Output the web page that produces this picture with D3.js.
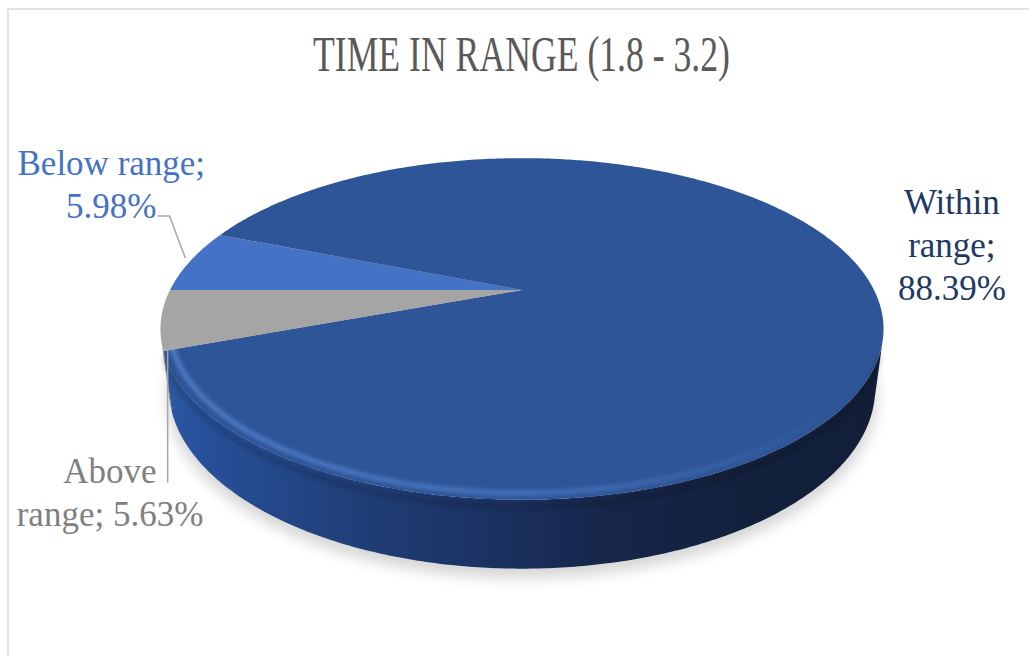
<!DOCTYPE html>
<html>
<head>
<meta charset="utf-8">
<script src="https://cdn.jsdelivr.net/npm/d3@7"></script>
<style>
  body { margin: 0; background: #fff; }
  svg { display: block; }
</style>
</head>
<body>
<svg id="vis"></svg>
<script>
// data
const categories = ["Below range", "Within range", "Above range"];
const percents = [5.98, 88.39, 5.63];
const chartTitle = "TIME IN RANGE (1.8 - 3.2)";

// how the label words are broken onto lines
const wordsPerLine = [[2, 1], [1, 1, 1], [1, 2]];

const topColor = d3.scaleOrdinal().domain(categories).range(["#4472C4", "#2E5597", "#A5A5A5"]);
const labelColor = d3.scaleOrdinal().domain(categories).range(["#4472C4", "#1F3864", "#808080"]);

const width = 1029, height = 656;

// 3d view of the pie (camera tilt + perspective)
const cx = 522, cy = 290, R = 352, depth = 67;
const sinE = 0.46, cosE = Math.sqrt(1 - sinE * sinE), D = 1371;

project = (phi, r, z) => {
  const X = r * Math.sin(phi), Y = -r * Math.cos(phi);
  const v = Y * sinE - z * cosE;
  const w = Y * cosE + z * sinE;
  const k = D / (D - w);
  return [cx + X * k, cy + v * k];
}

rimPoints = (a0, a1, r, z) => {
  const n = Math.max(2, Math.ceil(Math.abs(a1 - a0) / 0.01));
  return d3.range(n + 1).map(i => project(a0 + (a1 - a0) * i / n, r, z));
}

const svg = d3.select("#vis")
  .attr("width", width)
  .attr("height", height)
  .attr("viewBox", [0, 0, width, height]);

const defs = svg.append("defs");
defs.append("filter").attr("id", "blur")
  .attr("x", "-20%").attr("y", "-20%").attr("width", "140%").attr("height", "140%")
  .append("feGaussianBlur").attr("stdDeviation", 7);
defs.append("filter").attr("id", "soft")
  .append("feGaussianBlur").attr("stdDeviation", 2.2);

const sideGrad = defs.append("linearGradient").attr("id", "sideBlue")
  .attr("gradientUnits", "userSpaceOnUse")
  .attr("x1", cx - R * 1.03).attr("x2", cx + R * 1.03).attr("y1", 0).attr("y2", 0);
[[0, "#2C5AA2"], [0.06, "#27509A"], [0.25, "#20407A"], [0.45, "#1B3262"], [0.62, "#16264A"], [0.8, "#13213D"], [1, "#121E38"]]
  .forEach(s => sideGrad.append("stop").attr("offset", s[0]).attr("stop-color", s[1]));

// highlight fades out toward the right side of the disc
const hlGrad = defs.append("linearGradient").attr("id", "hlFade")
  .attr("gradientUnits", "userSpaceOnUse")
  .attr("x1", cx - R).attr("x2", cx + R).attr("y1", 0).attr("y2", 0);
[[0, 0.9], [0.5, 0.7], [0.8, 0.25], [0.95, 0]]
  .forEach(s => hlGrad.append("stop").attr("offset", s[0]).attr("stop-color", "#5A8AD6").attr("stop-opacity", s[1]));

const sideColor = d3.scaleOrdinal().domain(categories).range(["#3A64AE", "url(#sideBlue)", "#8C8C8C"]);

// chart frame
svg.append("rect")
  .attr("x", 8).attr("y", 9).attr("width", 1100).attr("height", 700)
  .attr("fill", "#fff").attr("stroke", "#D9D9D9").attr("stroke-width", 1.5);

svg.append("text")
  .attr("x", 313).attr("y", 71)
  .attr("textLength", 417).attr("lengthAdjust", "spacingAndGlyphs")
  .style("font-family", "'Liberation Serif', 'Times New Roman', serif")
  .style("font-size", "50px")
  .style("fill", "#595959")
  .text(chartTitle);

const pie = d3.pie().sort(null).value(d => d)
  .startAngle(1.5 * Math.PI).endAngle(3.5 * Math.PI);
const arcs = pie(percents).map((a, i) => ({...a, name: categories[i], mid: (a.startAngle + a.endAngle) / 2}));

const line = d3.line();

// soft shadow under the disc
svg.append("path")
  .attr("d", line(rimPoints(0, 2 * Math.PI, R * 1.005, -depth)) + "Z")
  .attr("transform", "translate(0,8)")
  .attr("fill", "#000").attr("opacity", 0.16)
  .attr("filter", "url(#blur)");

// the part of the rim that faces the camera
const phiV = Math.acos(-R / (D * cosE));
const visible = [[phiV, 2 * Math.PI - phiV], [phiV + 2 * Math.PI, 4 * Math.PI - phiV]];

const sides = svg.append("g");
arcs.forEach(a => {
  visible.forEach(([v0, v1]) => {
    const b0 = Math.max(a.startAngle, v0), b1 = Math.min(a.endAngle, v1);
    if (b1 <= b0) return;
    const pts = rimPoints(b0, b1, R, 0).concat(rimPoints(b1, b0, R, -depth));
    sides.append("path")
      .attr("d", line(pts) + "Z")
      .attr("fill", sideColor(a.name));
  });
});

// top faces
svg.append("g").selectAll("path")
  .data(arcs)
  .join("path")
    .attr("d", a => line([[cx, cy]].concat(rimPoints(a.startAngle, a.endAngle, R, 0))) + "Z")
    .attr("fill", a => topColor(a.name));

// bevel: light band on the top face edge, dark band at the top of the side
const hl = svg.append("g").attr("filter", "url(#soft)");
visible.forEach(([v0, v1]) => {
  arcs.forEach(a => {
    const b0 = Math.max(a.startAngle, v0 + 0.05), b1 = Math.min(a.endAngle, v1 - 0.05);
    if (b1 <= b0) return;
    hl.append("path")
      .attr("d", line(rimPoints(b0, b1, R * 0.975, 0)))
      .attr("fill", "none")
      .attr("stroke", a.name === "Above range" ? "#C8C8C8" : "url(#hlFade)")
      .attr("stroke-width", 4);
    hl.append("path")
      .attr("d", line(rimPoints(b0, b1, R, -7)))
      .attr("fill", "none")
      .attr("stroke", "#000")
      .attr("stroke-width", 6)
      .attr("opacity", 0.14);
  });
});

// data labels
const fmt = d3.format(".2f");
const labelOffset = {"Below range": [-79, -86], "Within range": [77, -78], "Above range": [-51, 163]};
const lineH = 43;

const labels = svg.append("g")
  .style("font-family", "'Liberation Serif', 'Times New Roman', serif")
  .style("font-size", "35px");

arcs.forEach((a, i) => {
  const words = `${a.name}; ${fmt(a.data)}%`.split(" ");
  let rows = [], p = 0;
  wordsPerLine[i].forEach(n => { rows.push(words.slice(p, p + n).join(" ")); p += n; });
  const anchor = project(a.mid, R, 0);
  const lx = anchor[0] + labelOffset[a.name][0], ly = anchor[1] + labelOffset[a.name][1];
  const t = labels.append("text")
    .attr("text-anchor", "middle")
    .style("fill", labelColor(a.name));
  rows.forEach((r, j) => t.append("tspan").attr("x", lx).attr("y", ly + j * lineH).text(r));
  a.label = {x: lx, y: ly, rows: rows, node: t};
});

// leader lines
const leaders = svg.append("g").attr("fill", "none").attr("stroke", "#A6A6A6").attr("stroke-width", 1.5);
arcs.forEach(a => {
  if (a.name === "Within range") return;
  const spans = a.label.node.selectAll("tspan").nodes();
  const rim = project(a.mid, R, 0);
  if (a.name === "Below range") {
    const last = spans[spans.length - 1];
    const right = a.label.x + last.getComputedTextLength() / 2;
    const yy = a.label.y + (spans.length - 1) * lineH - 2;
    leaders.append("path").attr("d", line([[right + 1, yy], [right + 13, yy], [rim[0] - 5, rim[1] - 3]]));
  } else {
    const right = a.label.x + spans[0].getComputedTextLength() / 2;
    leaders.append("path").attr("d", line([[right + 11, rim[1] + 30], [right + 11, a.label.y]]));
  }
});
</script>
</body>
</html>
